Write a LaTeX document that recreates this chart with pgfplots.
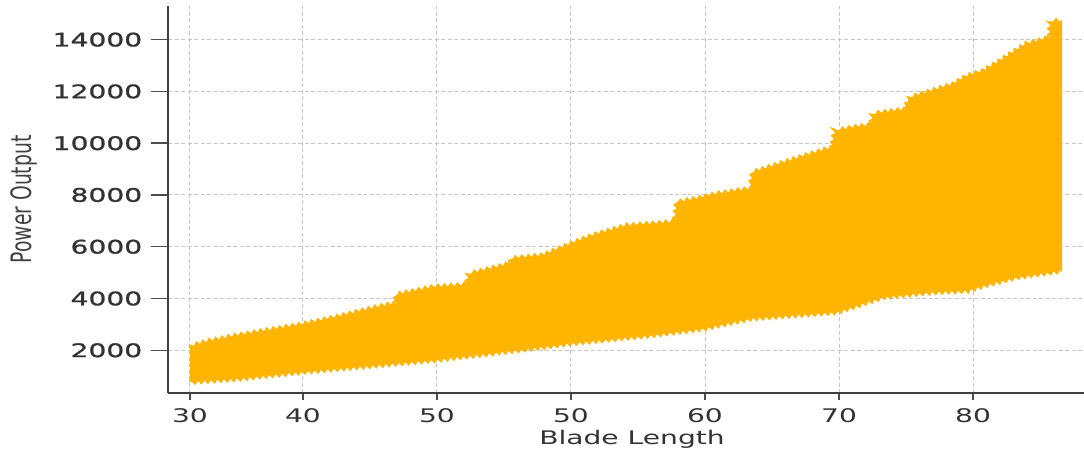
\documentclass[border=0pt]{standalone}
\usepackage{fontspec}
\usepackage{graphicx}
\usepackage{pgfplots}
\usepackage{pgfplotstable}
\pgfplotsset{compat=1.18}
\usepgfplotslibrary{fillbetween}
\usetikzlibrary{decorations.pathmorphing}

\newfontfamily\tickfont[FakeStretch=1.5]{DejaVu Sans}
\newfontfamily\ytickfont[FakeStretch=1.5,FakeBold=1.2]{DejaVu Sans}
\newfontfamily\labfont{DejaVu Sans}
\definecolor{band}{RGB}{255,180,0}

% upper and lower edge of the scatter band (x in axis units, ticks relabelled)
\pgfplotstableread{
x y
31.57 2080
31.9 2200
33 2350
35 2560
37.5 2780
40 3000
42.5 3280
45.5 3660
46.9 3820
47.0 4150
48.5 4300
49.7 4440
52.2 4520
52.4 4950
54 5150
55.45 5340
55.6 5540
57.9 5660
59.7 6050
61.6 6430
64.2 6820
66 6880
67.76 6960
67.9 7710
69.6 7880
70.9 8040
73.36 8240
73.58 8870
77.1 9450
79.5 9830
79.7 10470
81.0 10600
82.4 10700
82.54 11130
84.9 11300
85.3 11760
88.5 12270
89.55 12590
90.75 12780
92.0 13170
93.9 13810
95.7 14070
95.8 14710
96.64 14710
}\uptab

\pgfplotstableread{
x y
31.57 780
35 900
40 1170
45 1400
49.7 1620
54 1880
57.9 2130
59.9 2270
65.9 2580
69.85 2840
73.36 3230
77 3370
79.85 3480
83.3 4060
87 4250
89.6 4310
90.75 4500
93.3 4830
96.64 5080
}\lowtab

\begin{document}
\begin{tikzpicture}
\begin{axis}[
  scale only axis,
  width=366.4pt, height=154.8pt,
  xmin=29.93, xmax=98.28,
  ymin=350, ymax=15300,
  axis x line*=bottom, axis y line*=left,
  axis line style={-, draw=black!75, line width=0.6pt},
  xtick={31.57,40,50,60,70,80,90},
  xticklabels={30,40,50,50,60,70,80},
  ytick=\empty,
  extra y ticks={2000,4000,6000,8000,10000,12000,14000},
  extra y tick labels={2000,4000,6000,8000,10000,12000,14000},
  extra y tick style={major tick length=6.8pt, grid=major,
    yticklabel style={font=\ytickfont\fontsize{7.5}{9}\selectfont, text=black!80}},
  tick align=outside,
  major tick length=2.8pt,
  tick style={draw=black!70, line width=0.6pt},
  grid=major,
  grid style={dash pattern=on 1.6pt off 1pt, draw=gray!45, line width=0.4pt},
  ticklabel style={font=\tickfont\fontsize{7.5}{9}\selectfont, text=black!80},
  xlabel={Blade Length},
  xlabel style={font=\tickfont\fontsize{7.5}{9}\selectfont, text=black!80,
    at={(axis description cs:0.5,0)}, anchor=base, yshift=-20.4pt, xshift=2.4pt},
  ylabel={\scalebox{1}[1.5]{\labfont\fontsize{7.5}{9}\selectfont Power Output}},
  ylabel style={text=black!75, at={(axis description cs:0,0.5)},
    anchor=center, yshift=57.6pt},
]
\addplot[name path=up, draw=none] table {\uptab};
\addplot[name path=lo, draw=none] table {\lowtab};
\addplot[band] fill between[of=up and lo];
\addplot[band, line width=0.8pt, decorate,
  decoration={zigzag, amplitude=0.8pt, segment length=2.6pt}] table {\uptab};
\addplot[band, line width=0.8pt, decorate,
  decoration={zigzag, amplitude=0.8pt, segment length=2.6pt}] table {\lowtab};
\end{axis}
\pgfresetboundingbox
\path[use as bounding box] (-67.2pt,-24.8pt) rectangle (366.4pt,157.2pt);
\end{tikzpicture}
\end{document}
